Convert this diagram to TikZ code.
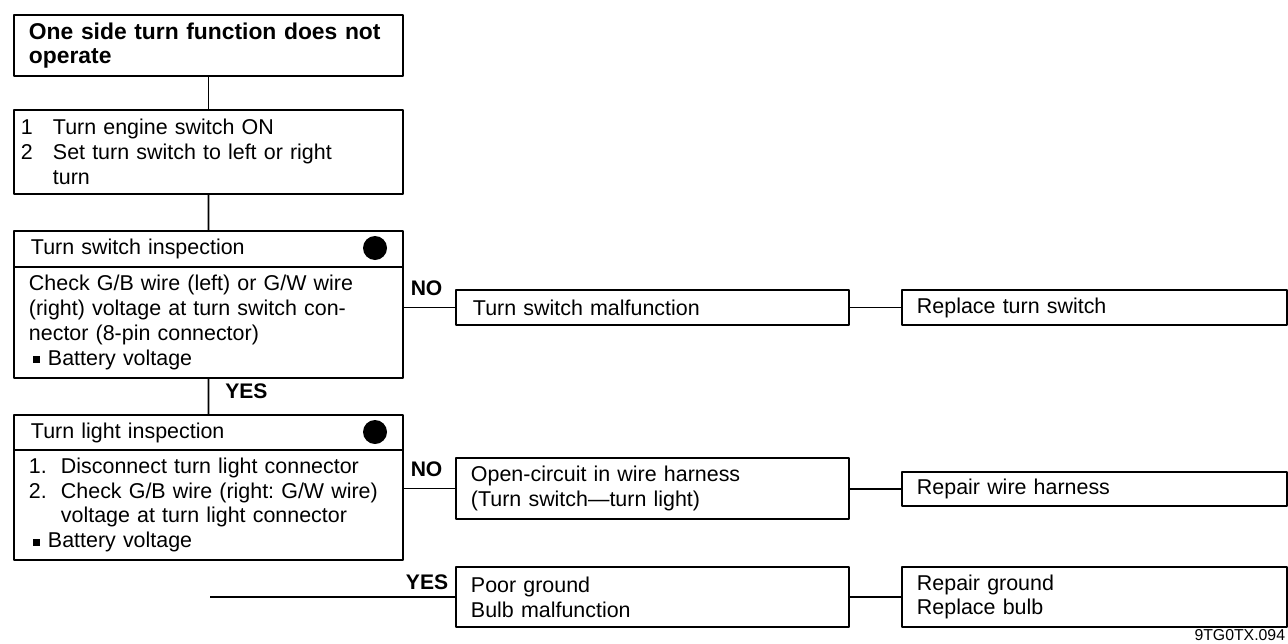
\documentclass[tikz,border=0pt]{standalone}
\usepackage{fontspec}
\setmainfont{Liberation Sans}
\usepackage{tikz}
\frenchspacing

% list helpers for the step boxes
\newcommand{\numitem}[1]{\makebox[6.4mm][l]{#1}}
\newcommand{\hangskip}{\hspace*{6.4mm}}
\newcommand{\sqbullet}{\makebox[3.8mm][l]{\hspace{0.8mm}\rule[0.2ex]{0.32em}{0.32em}}}

\begin{document}
\begin{tikzpicture}[x=0.2mm, y=-0.2mm, line join=bevel]
	\pgfsetlinewidth{1.1pt}
	\pgfsetcolor{black}

	\tikzstyle{box} = [draw, rectangle, anchor=north west, align=left, inner xsep=3mm, inner ysep=0pt, font=\fontsize{12.2}{14.2}\selectfont];
	\tikzstyle{leftbox} = [box, text width=71.8mm];
	\tikzstyle{midbox} = [box, text width=72.6mm];
	\tikzstyle{rightbox} = [box, text width=71mm];
	\tikzstyle{answer} = [font=\bfseries\fontsize{12}{13}\selectfont];
	\tikzstyle{check} = [circle, fill, minimum size=4.8mm, inner sep=0pt];

	\useasboundingbox (0,0) rectangle (1288,643);

	% left column
	\node[leftbox, minimum height=12.2mm, font=\bfseries\fontsize{13}{13.7}\selectfont] at (13,14) (start) {One side turn function does not\\operate};
	\node[leftbox, minimum height=16.8mm, inner xsep=1.4mm, text width=75mm] at (13,109) (prep) {\numitem{1}Turn engine switch ON\\
		\numitem{2}Set turn switch to left or right\\
		\hangskip turn};
	\node[leftbox, minimum height=7.2mm, inner xsep=3.4mm, text width=71mm] at (13,230) (swhead) {Turn switch inspection};
	\node[leftbox, minimum height=22.2mm] at (13,266) (swbody) {Check G/B wire (left) or G/W wire\\
		(right) voltage at turn switch con-\\
		nector (8-pin connector)\\
		\sqbullet Battery voltage};
	\node[check] at (375,248) (swdot) {};
	\node[leftbox, minimum height=7mm, inner xsep=3.4mm, text width=71mm] at (13,414) (lthead) {Turn light inspection};
	\node[leftbox, minimum height=22mm] at (13,449) (ltbody) {\numitem{1.}Disconnect turn light connector\\
		\numitem{2.}Check G/B wire (right: G/W wire)\\
		\hangskip voltage at turn light connector\\
		\sqbullet Battery voltage};
	\node[check] at (375,432) (ltdot) {};

	% causes
	\node[midbox, minimum height=7mm, inner xsep=3.4mm, text width=71.8mm] at (455,289) (swfault) {Turn switch malfunction};
	\node[midbox, minimum height=12.2mm] at (455,457) (harness) {Open-circuit in wire harness\\(Turn switch---turn light)};
	\node[midbox, minimum height=12mm] at (455,566) (ground) {Poor ground\\Bulb malfunction};

	% remedies
	\node[rightbox, minimum height=7mm] at (901,289) (swfix) {Replace turn switch};
	\node[rightbox, minimum height=6.8mm] at (901,471) (harnessfix) {Repair wire harness};
	\node[rightbox, minimum height=12mm] at (901,566) (groundfix) {Repair ground\\Replace bulb};

	\node[anchor=north east, inner sep=0pt, font=\fontsize{9}{10}\selectfont] at (1286,628) (code) {9TG0TX.094};

	\draw (start) -- (prep);
	\draw (prep) -- (swhead);
	\draw (swbody) -- node[answer, pos=0.35, right=2mm] {YES} (lthead);
	\draw (swbody.east |- swfault) -- node[answer, pos=0, above right, yshift=1mm] {NO} (swfault);
	\draw (swfault) -- (swfix);
	\draw (ltbody.east |- harness) -- node[answer, pos=0, above right, yshift=1mm] {NO} (harness);
	\draw (harness.east |- harnessfix) -- (harnessfix);
	\path (ground.west) ++(-245,0) coordinate (yesfrom);
	\draw (yesfrom) -- node[answer, pos=1, above left] {YES} (ground);
	\draw (ground) -- (groundfix);
\end{tikzpicture}
\end{document}
